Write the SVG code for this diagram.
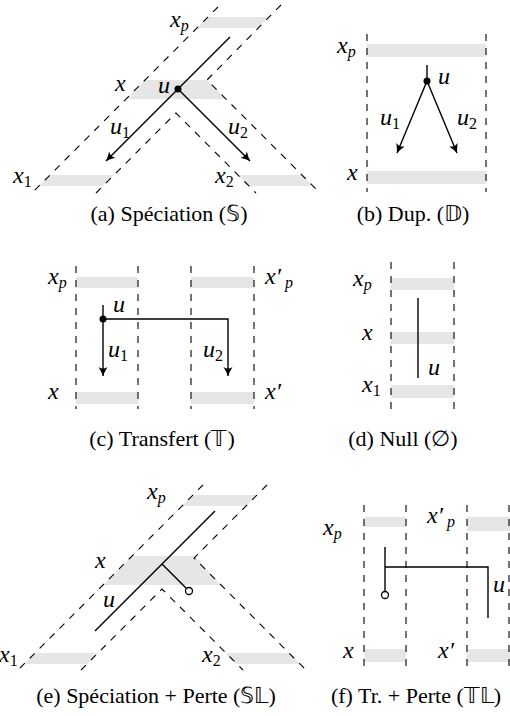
<svg xmlns="http://www.w3.org/2000/svg" width="510" height="716" viewBox="0 0 510 716">
<defs>
<marker id="ah" markerUnits="userSpaceOnUse" markerWidth="12" markerHeight="12" viewBox="-10 -6 12 12" refX="0" refY="0" orient="auto">
<path d="M0,0 Q-4,-1.5 -9,-4.5 Q-6,0 -9,4.5 Q-4,1.5 0,0 Z" fill="#000"/>
</marker>
</defs>

<g id="panel-a">
<g id="a-species">
<g fill="#e6e6e6">
<polygon points="208,17 269,17 258,28 197,28"/>
<polygon points="145,80 207,80 226,99 126,99"/>
<polygon points="50,175 114,175 103,186 39,186"/>
<polygon points="238,175 302,175 313,186 249,186"/>
</g>
<g fill="none" stroke="#000" stroke-width="1.1" stroke-dasharray="7 7">
<path d="M218,7 L32,193"/>
<path d="M281,5 L207,80 L320,193"/>
<path d="M96,193 L176,113 L256,193"/>
</g>
</g>
<g id="a-gene" fill="none" stroke="#000" stroke-width="1.4">
<path d="M230,37 L178,89"/>
<path d="M178,89 L106,161" marker-end="url(#ah)"/>
<path d="M178,89 L250,161" marker-end="url(#ah)"/>
<circle cx="178" cy="89" r="3.5" fill="#000" stroke="none"/>
</g>
<g id="a-labels">
<text font-family="Liberation Serif" font-size="24" font-style="italic" x="170" y="27">x<tspan font-size="16" dy="4">p</tspan></text>
<text font-family="Liberation Serif" font-size="24" font-style="italic" x="115" y="91">x</text>
<text font-family="Liberation Serif" font-size="24" font-style="italic" x="158" y="93">u</text>
<text font-family="Liberation Serif" font-size="24" font-style="italic" x="110" y="134">u<tspan font-size="16" font-style="normal" dy="4">1</tspan></text>
<text font-family="Liberation Serif" font-size="24" font-style="italic" x="228" y="134">u<tspan font-size="16" font-style="normal" dy="4">2</tspan></text>
<text font-family="Liberation Serif" font-size="24" font-style="italic" x="13" y="183">x<tspan font-size="16" font-style="normal" dy="4">1</tspan></text>
<text font-family="Liberation Serif" font-size="24" font-style="italic" x="215" y="183">x<tspan font-size="16" font-style="normal" dy="4">2</tspan></text>
</g>
<text font-family="Liberation Serif" font-size="22" text-anchor="middle" x="169" y="221">(a) Spéciation (𝕊)</text>
</g>

<g id="panel-b">
<g id="b-species">
<g fill="#e6e6e6">
<rect x="367" y="44" width="119" height="13"/>
<rect x="367" y="171" width="119" height="13"/>
</g>
<path d="M367,34 L367,192 M486,34 L486,192" fill="none" stroke="#000" stroke-width="1.1" stroke-dasharray="7 7"/>
</g>
<g id="b-gene" fill="none" stroke="#000" stroke-width="1.4">
<path d="M427,65 L427,81"/>
<path d="M427,81 L397,153" marker-end="url(#ah)"/>
<path d="M427,81 L457,153" marker-end="url(#ah)"/>
<circle cx="427" cy="81" r="3.5" fill="#000" stroke="none"/>
</g>
<g id="b-labels">
<text font-family="Liberation Serif" font-size="24" font-style="italic" x="337" y="53">x<tspan font-size="16" dy="4">p</tspan></text>
<text font-family="Liberation Serif" font-size="24" font-style="italic" x="347" y="180">x</text>
<text font-family="Liberation Serif" font-size="24" font-style="italic" x="438" y="84">u</text>
<text font-family="Liberation Serif" font-size="24" font-style="italic" x="380" y="125">u<tspan font-size="16" font-style="normal" dy="4">1</tspan></text>
<text font-family="Liberation Serif" font-size="24" font-style="italic" x="457" y="125">u<tspan font-size="16" font-style="normal" dy="4">2</tspan></text>
</g>
<text font-family="Liberation Serif" font-size="22" text-anchor="middle" x="413" y="221">(b) Dup. (𝔻)</text>
</g>

<g id="panel-c">
<g id="c-species">
<g fill="#e6e6e6">
<rect x="76" y="277" width="62" height="11"/>
<rect x="191" y="277" width="63" height="11"/>
<rect x="76" y="392" width="62" height="12"/>
<rect x="191" y="392" width="63" height="12"/>
</g>
<path d="M76,266 L76,409 M138,266 L138,409 M191,266 L191,409 M254,266 L254,409" fill="none" stroke="#000" stroke-width="1.1" stroke-dasharray="7 7"/>
</g>
<g id="c-gene" fill="none" stroke="#000" stroke-width="1.4">
<path d="M103,305 L103,319"/>
<path d="M103,319 L103,376" marker-end="url(#ah)"/>
<path d="M103,319 L228,319 L228,376" marker-end="url(#ah)"/>
<circle cx="103" cy="319" r="3.5" fill="#000" stroke="none"/>
</g>
<g id="c-labels">
<text font-family="Liberation Serif" font-size="24" font-style="italic" x="48" y="284">x<tspan font-size="16" dy="4">p</tspan></text>
<text font-family="Liberation Serif" font-size="24" font-style="italic" x="265" y="284">x′<tspan font-size="16" dx="4" dy="4">p</tspan></text>
<text font-family="Liberation Serif" font-size="24" font-style="italic" x="48" y="399">x</text>
<text font-family="Liberation Serif" font-size="24" font-style="italic" x="265" y="399">x′</text>
<text font-family="Liberation Serif" font-size="24" font-style="italic" x="113" y="312">u</text>
<text font-family="Liberation Serif" font-size="24" font-style="italic" x="108" y="357">u<tspan font-size="16" font-style="normal" dy="4">1</tspan></text>
<text font-family="Liberation Serif" font-size="24" font-style="italic" x="203" y="357">u<tspan font-size="16" font-style="normal" dy="4">2</tspan></text>
</g>
<text font-family="Liberation Serif" font-size="22" text-anchor="middle" x="162" y="446">(c) Transfert (𝕋)</text>
</g>

<g id="panel-d">
<g id="d-species">
<g fill="#e6e6e6">
<rect x="391" y="278" width="63" height="12"/>
<rect x="391" y="332" width="63" height="12"/>
<rect x="391" y="385" width="63" height="13"/>
</g>
<path d="M391,262 L391,413 M454,262 L454,413" fill="none" stroke="#000" stroke-width="1.1" stroke-dasharray="7 7"/>
</g>
<g id="d-gene" fill="none" stroke="#000" stroke-width="1.4">
<path d="M418,298 L418,378"/>
</g>
<g id="d-labels">
<text font-family="Liberation Serif" font-size="24" font-style="italic" x="353" y="286">x<tspan font-size="16" dy="4">p</tspan></text>
<text font-family="Liberation Serif" font-size="24" font-style="italic" x="362" y="340">x</text>
<text font-family="Liberation Serif" font-size="24" font-style="italic" x="362" y="392">x<tspan font-size="16" font-style="normal" dy="4">1</tspan></text>
<text font-family="Liberation Serif" font-size="24" font-style="italic" x="428" y="375">u</text>
</g>
<text font-family="Liberation Serif" font-size="22" text-anchor="middle" x="403" y="446">(d) Null (∅)</text>
</g>

<g id="panel-e">
<g id="e-species">
<g fill="#e6e6e6">
<polygon points="193,495 257,495 246,506 182,506"/>
<polygon points="132,556 195,556 221,585 103,585"/>
<polygon points="35,653 98,653 87,664 24,664"/>
<polygon points="225,653 289,653 300,664 236,664"/>
</g>
<g fill="none" stroke="#000" stroke-width="1.1" stroke-dasharray="7 7">
<path d="M203,485 L18,670"/>
<path d="M267,485 L194,558 L306,670"/>
<path d="M81,670 L162,589 L243,670"/>
</g>
</g>
<g id="e-gene" fill="none" stroke="#000" stroke-width="1.4">
<path d="M215,511 L95,631"/>
<path d="M162,564 L186.5,588.5"/>
<circle cx="189" cy="591" r="3.5" fill="#fff" stroke-width="1.3"/>
</g>
<g id="e-labels">
<text font-family="Liberation Serif" font-size="24" font-style="italic" x="147" y="499">x<tspan font-size="16" dy="4">p</tspan></text>
<text font-family="Liberation Serif" font-size="24" font-style="italic" x="95" y="568">x</text>
<text font-family="Liberation Serif" font-size="24" font-style="italic" x="103" y="607">u</text>
<text font-family="Liberation Serif" font-size="24" font-style="italic" x="-1" y="662">x<tspan font-size="16" font-style="normal" dy="4">1</tspan></text>
<text font-family="Liberation Serif" font-size="24" font-style="italic" x="202" y="662">x<tspan font-size="16" font-style="normal" dy="4">2</tspan></text>
</g>
<text font-family="Liberation Serif" font-size="22" text-anchor="middle" x="156" y="703">(e) Spéciation + Perte (𝕊𝕃)</text>
</g>

<g id="panel-f">
<g id="f-species">
<g fill="#e6e6e6">
<rect x="364" y="517" width="42" height="10"/>
<rect x="467" y="517" width="43" height="14"/>
<rect x="364" y="649" width="42" height="13"/>
<rect x="467" y="649" width="43" height="13"/>
</g>
<path d="M364,505 L364,669 M406,505 L406,669 M467,505 L467,669 M509,505 L509,669" fill="none" stroke="#000" stroke-width="1.1" stroke-dasharray="7 7"/>
</g>
<g id="f-gene" fill="none" stroke="#000" stroke-width="1.4">
<path d="M385,547 L385,591.5"/>
<path d="M385,567 L488,567 L488,618"/>
<circle cx="385" cy="595" r="3.5" fill="#fff" stroke-width="1.3"/>
</g>
<g id="f-labels">
<text font-family="Liberation Serif" font-size="24" font-style="italic" x="323" y="535">x<tspan font-size="16" dy="4">p</tspan></text>
<text font-family="Liberation Serif" font-size="24" font-style="italic" x="427" y="523">x′<tspan font-size="16" dx="4" dy="4">p</tspan></text>
<text font-family="Liberation Serif" font-size="24" font-style="italic" x="343" y="658">x</text>
<text font-family="Liberation Serif" font-size="24" font-style="italic" x="438" y="658">x′</text>
<text font-family="Liberation Serif" font-size="24" font-style="italic" x="493" y="592">u</text>
</g>
<text font-family="Liberation Serif" font-size="22" text-anchor="middle" x="416" y="703">(f) Tr. + Perte (𝕋𝕃)</text>
</g>
</svg>
